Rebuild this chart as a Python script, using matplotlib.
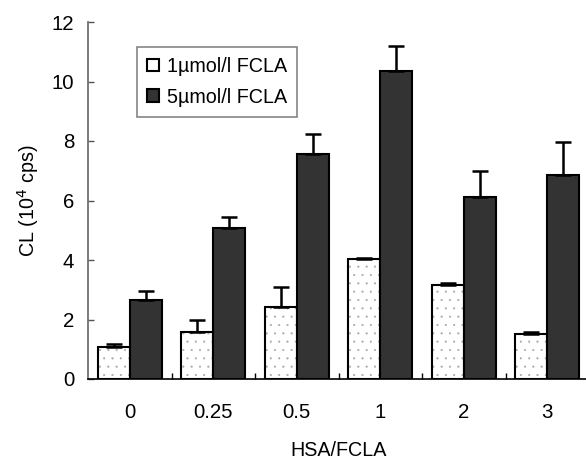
import matplotlib.pyplot as plt
import numpy as np

plt.rcParams['font.family'] = ['Liberation Sans', 'DejaVu Sans']
plt.rcParams['hatch.linewidth'] = 0.3

ratios = ['0', '0.25', '0.5', '1', '2', '3']
low_fcla = [1.06, 1.58, 2.43, 4.02, 3.15, 1.51]
low_err = [0.12, 0.39, 0.65, 0.06, 0.07, 0.07]
high_fcla = [2.64, 5.06, 7.57, 10.35, 6.13, 6.87]
high_err = [0.32, 0.40, 0.65, 0.85, 0.85, 1.09]

x = np.arange(len(ratios))
w = 0.385

fig = plt.figure(figsize=(5.86, 4.62), dpi=100)
ax = fig.add_axes([88 / 586, 83 / 462, 501 / 586, 357 / 462])

err_kw = dict(ecolor='black', elinewidth=1.8, capsize=5.5, capthick=1.8)
# dotted fill for the 1 umol/l bars, drawn under the outlined bars
ax.bar(x - w / 2, low_fcla, w, color='white', edgecolor='#a8a8a8',
       linewidth=0, hatch='..')
ax.bar(x - w / 2, low_fcla, w, fill=False, edgecolor='black', linewidth=1.5,
       yerr=[np.zeros(6), low_err], error_kw=err_kw,
       label='1\u00b5mol/l FCLA')
ax.bar(x + w / 2, high_fcla, w, color='#333333', edgecolor='black', linewidth=1.5,
       yerr=[np.zeros(6), high_err], error_kw=err_kw,
       label='5\u00b5mol/l FCLA')

ax.set_xlim(-0.5, 5.5)
ax.set_ylim(0, 12)
ax.set_yticks(range(0, 13, 2))
ax.set_xticks(x)
ax.set_xticklabels(ratios)
ax.set_xticks(x[:-1] + 0.5, minor=True)
ax.tick_params(axis='x', which='major', length=0, pad=17, labelsize=14.7)
ax.tick_params(axis='x', which='minor', direction='in', length=4, width=1)
ax.tick_params(axis='y', direction='in', length=4, width=1, colors='#555555',
               labelcolor='black', labelsize=14.7, pad=10)

for s in ['top', 'right']:
    ax.spines[s].set_visible(False)
ax.spines['left'].set_color('#666666')
ax.spines['left'].set_linewidth(1.2)
ax.spines['bottom'].set_linewidth(1.2)

ax.set_xlabel('HSA/FCLA', fontsize=14.2, labelpad=14)
ax.set_ylabel('CL (10$^4$ cps)', fontsize=14.2, labelpad=8)

leg = ax.legend(loc='upper left', bbox_to_anchor=(0.098, 0.93), borderaxespad=0,
                fontsize=14.2, fancybox=False, edgecolor='#666666',
                handlelength=0.6, handleheight=0.6, handletextpad=0.4,
                labelspacing=0.6, borderpad=0.5)
leg.get_frame().set_linewidth(1.2)

fig.savefig('out.png', dpi=100)
